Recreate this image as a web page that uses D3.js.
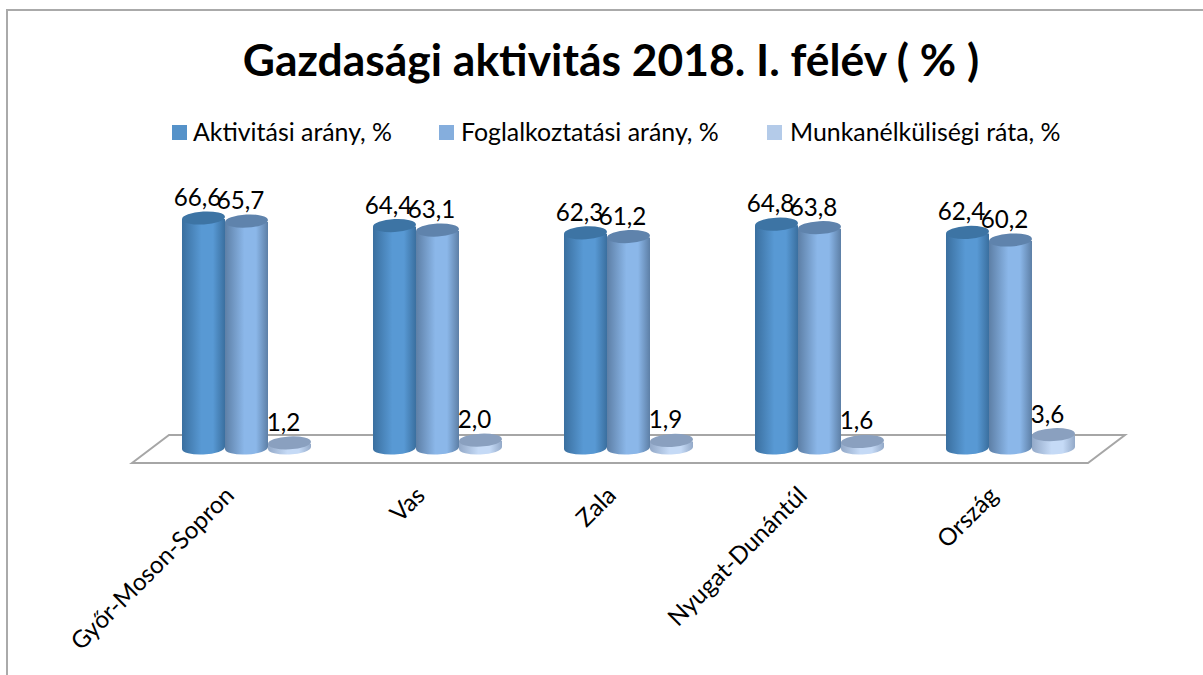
<!DOCTYPE html>
<html>
<head>
<meta charset="utf-8">
<script src="https://cdn.jsdelivr.net/npm/d3@7"></script>
<style>
    body { margin: 0; background: #fff; }
    text { font-family: Lato, "Open Sans", sans-serif; fill: #000; }
</style>
</head>
<body>
<div id="chart"></div>
<script>
const width = 1203
const height = 675

const chartTitle = 'Gazdasági aktivitás 2018. I. félév ( % )'
const categories = ['Győr-Moson-Sopron', 'Vas', 'Zala', 'Nyugat-Dunántúl', 'Ország']
const seriesNames = ['Aktivitási arány, %', 'Foglalkoztatási arány, %', 'Munkanélküliségi ráta, %']
const aktivitasi = [66.6, 64.4, 62.3, 64.8, 62.4]
const foglalkoztatasi = [65.7, 63.1, 61.2, 63.8, 60.2]
const munkanelkuliseg = [1.2, 2.0, 1.9, 1.6, 3.6]
const seriesValues = [aktivitasi, foglalkoztatasi, munkanelkuliseg]

const colors = [
    { edge: '#3a6f9f', mid: '#5899d4', top: '#3d74a4', legend: '#5592c9' },
    { edge: '#5d7fa6', mid: '#8bb7e9', top: '#5f83ac', legend: '#85aedd' },
    { edge: '#93a9c8', mid: '#c5daf6', top: '#8aa0bf', legend: '#b4cbe9' }
]

const floorY = 448
const ry = 6.5
const tilt = -3

let svg = d3.select('#chart').append('svg').attr('width', width).attr('height', height).style('display', 'block')

let defs = svg.append('defs')
colors.forEach((c, i) => {
    let grad = defs.append('linearGradient').attr('id', `cyl${i}`)
    grad.append('stop').attr('offset', '0%').attr('stop-color', c.edge)
    grad.append('stop').attr('offset', '45%').attr('stop-color', c.mid)
    grad.append('stop').attr('offset', '72%').attr('stop-color', c.mid)
    grad.append('stop').attr('offset', '100%').attr('stop-color', c.edge)
})

let x0 = d3.scaleBand().domain(categories).range([151, 1106]).paddingInner(0.3246).paddingOuter(0.1623)
let x1 = d3.scaleBand().domain(seriesNames).range([0, x0.bandwidth()])
let y = d3.scaleLinear().domain([0, 66.6]).range([floorY, 219])

// chart frame, the right side is cut off in the original
svg.append('path')
    .attr('d', 'M7,675V10H1203')
    .attr('fill', 'none')
    .attr('stroke', '#aaaaaa')
    .attr('stroke-width', 2)

// floor
svg.append('path')
    .attr('d', 'M132,463L169,435H1125L1088,463Z')
    .attr('fill', 'none')
    .attr('stroke', '#a6a6a6')
    .attr('stroke-width', 2)

svg.append('text')
    .attr('x', 611)
    .attr('y', 76)
    .attr('text-anchor', 'middle')
    .attr('font-size', 44.4)
    .attr('font-weight', 700)
    .text(chartTitle)

// legend
const legendSwatch = [172, 439, 767]
const legendText = [193, 461, 790]
seriesNames.forEach((name, i) => {
    svg.append('rect')
        .attr('x', legendSwatch[i]).attr('y', 125)
        .attr('width', 15).attr('height', 15)
        .attr('fill', colors[i].legend)
    svg.append('text')
        .attr('x', legendText[i]).attr('y', 141)
        .attr('font-size', 24.9)
        .text(name)
})

// cylinders
categories.forEach((cat, ci) => {
    seriesNames.forEach((name, si) => {
        let v = seriesValues[si][ci]
        let left = x0(cat) + x1(name)
        let w = x1.bandwidth()
        let rx = w / 2
        let cx = left + rx
        let top = y(v)
        let g = svg.append('g').attr('class', 'cylinder')
        g.append('path')
            .attr('d', `M${left},${top}V${floorY + 1}A${rx},${ry} ${tilt} 0 0 ${left + w},${floorY - 1}V${top}Z`)
            .attr('fill', `url(#cyl${si})`)
        g.append('ellipse')
            .attr('cx', cx).attr('cy', top - 1)
            .attr('rx', rx).attr('ry', ry)
            .attr('transform', `rotate(${tilt} ${cx} ${top - 1})`)
            .attr('fill', colors[si].top)
        g.append('text')
            .attr('x', cx - 6).attr('y', top - 13)
            .attr('text-anchor', 'middle')
            .attr('font-size', 24.2)
            .text(d3.format('.1f')(v).replace('.', ','))
    })
})

// category labels
categories.forEach(cat => {
    let cx = x0(cat) + x0.bandwidth() / 2
    svg.append('text')
        .attr('transform', `translate(${cx - 11}, 497) rotate(-45)`)
        .attr('text-anchor', 'end')
        .attr('font-size', 24.2)
        .text(cat)
})
</script>
</body>
</html>
